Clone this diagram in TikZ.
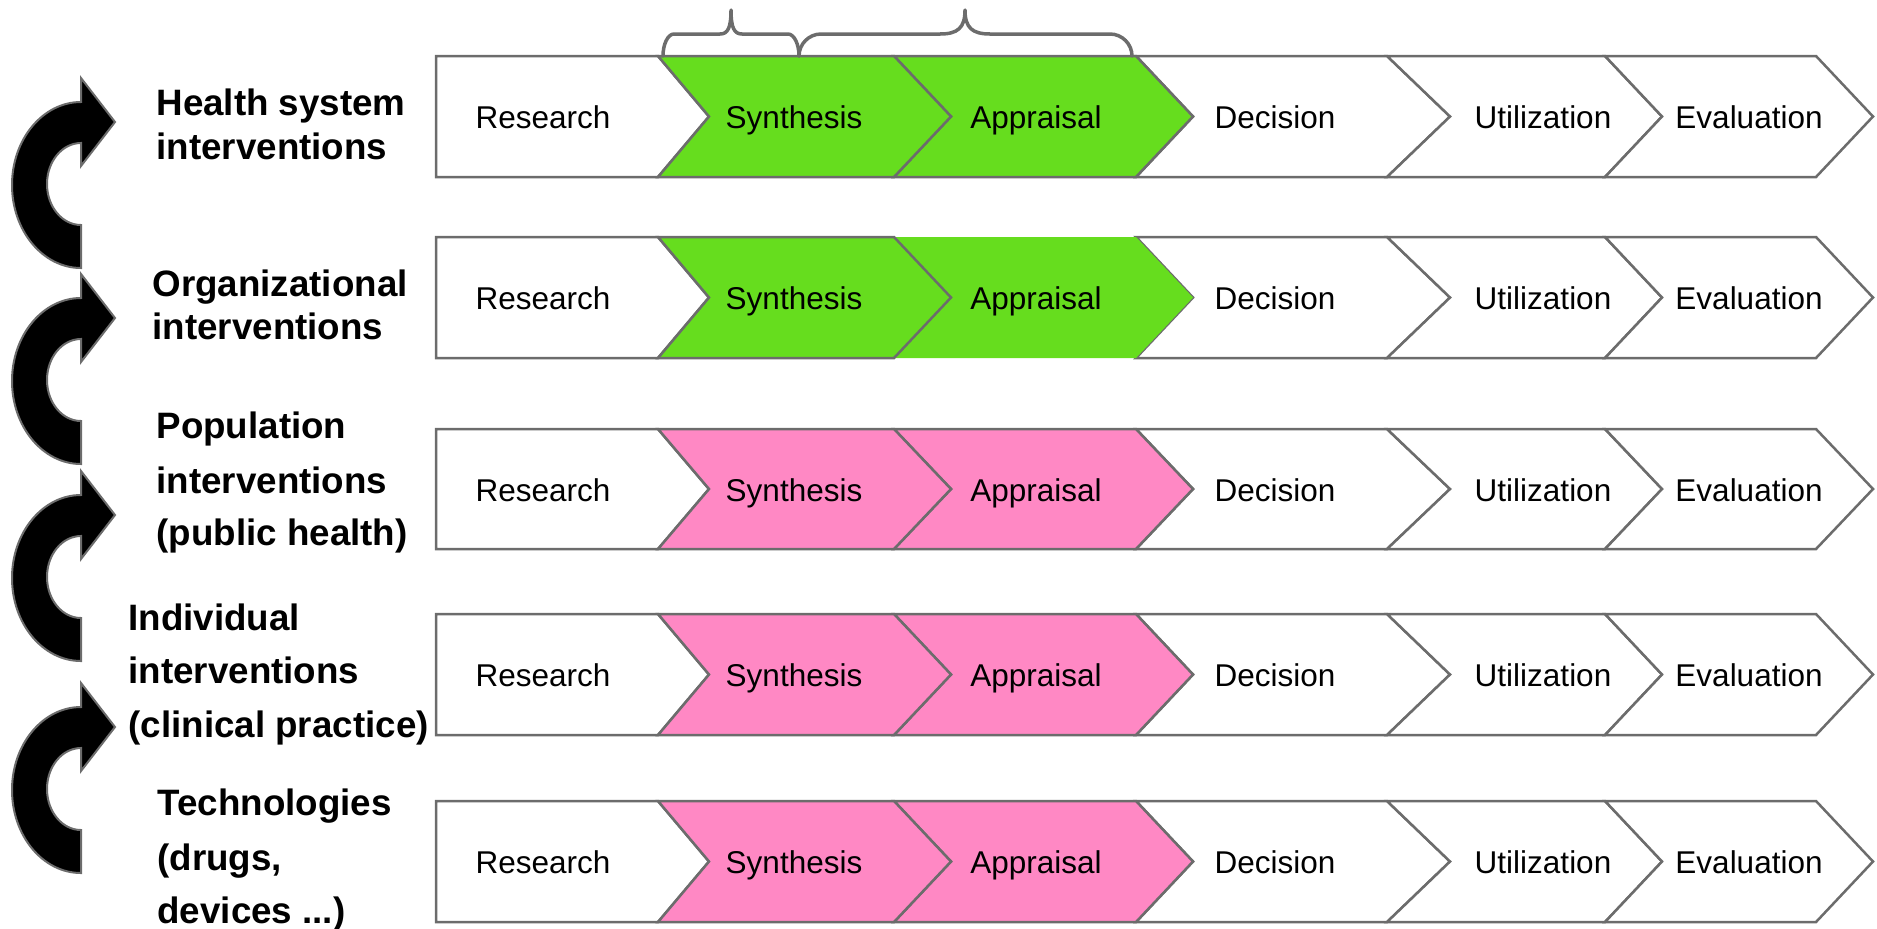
\documentclass[tikz,border=0pt]{standalone}
\usepackage{fontspec}
\setmainfont{Liberation Sans}
\definecolor{chgreen}{RGB}{102,221,30}
\definecolor{chpink}{RGB}{255,136,196}
\definecolor{lingray}{RGB}{108,108,108}
\tikzset{
  chev/.style={draw=lingray, line width=1pt, line join=miter, fill=white},
  apdraw/.style={},
  apnodraw/.style={draw=none},
  steplabel/.style={font=\fontsize{12.6}{15}\selectfont, anchor=base, inner sep=0pt},
  grplabel/.style={font=\fontsize{14.7}{17}\selectfont\bfseries, anchor=base west, inner sep=0pt},
  bracestyle/.style={draw=lingray, line width=1.4pt, line cap=round, line join=round},
  arrowshape/.style={fill=black, draw=lingray, line width=0.8pt, line join=miter},
  curvarrow/.pic={
    \draw[arrowshape] (0,0) -- (-34,-44) -- (-34,-20)
      .. controls (-72.1,-20) and (-103,17.2) .. (-103,63)
      .. controls (-103,108.8) and (-72.1,146) .. (-34,146)
      -- (-34,103)
      .. controls (-52.8,103) and (-68,84.6) .. (-68,62)
      .. controls (-68,39.4) and (-52.8,21) .. (-34,21)
      -- (-34,44) -- cycle;
  }
}
\newcommand\mybrace[5]{%
  \draw[bracestyle] (#1,56) .. controls (#1,44) and ({#1+0.45*#4},34) .. ({#1+#4},34)
    -- ({#2-#5},34) .. controls ({#2-0.3*#5},34) and (#2,28) .. (#2,10)
    .. controls (#2,28) and ({#2+0.3*#5},34) .. ({#2+#5},34)
    -- ({#3-#4},34) .. controls ({#3-0.45*#4},34) and (#3,44) .. (#3,56);
}
\begin{document}
\begin{tikzpicture}[x=0.4pt,y=-0.4pt]
\useasboundingbox (0,0) rectangle (1877,928);

% rows of chevrons
\foreach \t/\b/\c/\ap/\n in {56/177/chgreen/apdraw/1, 237/358/chgreen/apnodraw/2, 429/549/chpink/apdraw/3, 614/735/chpink/apdraw/4, 801/922/chpink/apdraw/5}{
  \pgfmathsetmacro\m{(\t+\b)/2}
  \pgfmathsetmacro\bl{\m+12}
  \draw[chev] (436,\t) -- (658,\t) -- (709,\m) -- (658,\b) -- (436,\b) -- cycle;
  \draw[chev] (1136,\t) -- (1387,\t) -- (1450,\m) -- (1387,\b) -- (1136,\b) -- (1193,\m) -- cycle;
  \draw[chev] (1387,\t) -- (1605,\t) -- (1662,\m) -- (1605,\b) -- (1387,\b) -- (1450,\m) -- cycle;
  \draw[chev] (1605,\t) -- (1816,\t) -- (1873,\m) -- (1816,\b) -- (1605,\b) -- (1662,\m) -- cycle;
  \draw[chev, fill=\c, \ap] (894,\t) -- (1136,\t) -- (1193,\m) -- (1136,\b) -- (894,\b) -- (951,\m) -- cycle;
  \draw[chev, fill=\c] (658,\t) -- (894,\t) -- (951,\m) -- (894,\b) -- (658,\b) -- (709,\m) -- cycle;
  \node[steplabel] (res\n) at (543,\bl) {Research};
  \node[steplabel] (syn\n) at (794,\bl) {Synthesis};
  \node[steplabel] (app\n) at (1036,\bl) {Appraisal};
  \node[steplabel] (dec\n) at (1275,\bl) {Decision};
  \node[steplabel] (uti\n) at (1543,\bl) {Utilization};
  \node[steplabel] (eva\n) at (1749,\bl) {Evaluation};
}

% braces
\mybrace{663}{731}{799}{11}{11}
\mybrace{799}{965}{1132}{22}{25}

% curved arrows
\pic (arr1) at (115,122) {curvarrow};
\pic (arr2) at (115,318) {curvarrow};
\pic (arr3) at (115,515) {curvarrow};
\pic (arr4) at (115,727) {curvarrow};

% group labels
\node[grplabel] (g1a) at (156,115) {Health system};
\node[grplabel] (g1b) at (156,159) {interventions};
\node[grplabel] (g2a) at (152,296) {Organizational};
\node[grplabel] (g2b) at (152,339) {interventions};
\node[grplabel] (g3a) at (156,438) {Population};
\node[grplabel] (g3b) at (156,493) {interventions};
\node[grplabel] (g3c) at (156,545) {(public health)};
\node[grplabel] (g4a) at (128,630) {Individual};
\node[grplabel] (g4b) at (128,683) {interventions};
\node[grplabel] (g4c) at (128,737) {(clinical practice)};
\node[grplabel] (g5a) at (157,815) {Technologies};
\node[grplabel] (g5b) at (157,870) {(drugs,};
\node[grplabel] (g5c) at (157,923) {devices ...)};
\end{tikzpicture}
\end{document}
